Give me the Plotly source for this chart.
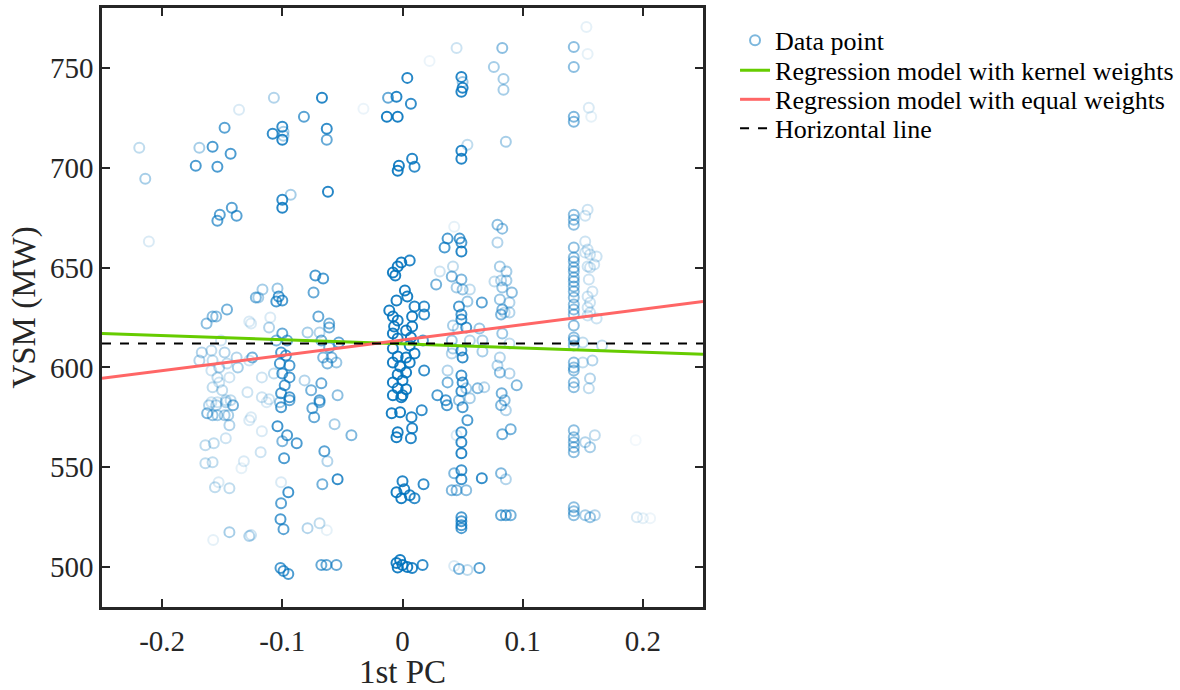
import plotly.graph_objects as go

# ---------------- data ----------------
# far-left sparse points
fl_x = [-0.219, -0.214, -0.211, -0.172, -0.169, -0.158, -0.154, -0.148, -0.143, -0.136,
        -0.154, -0.152, -0.142, -0.138]
fl_y = [710, 694.5, 663, 701, 710, 710.5, 700.5, 720, 707, 729,
        673.5, 676.5, 680, 676]
fl_w = [0.25, 0.35, 0.15, 0.7, 0.35, 0.7, 0.7, 0.65, 0.7, 0.15,
        0.65, 0.65, 0.65, 0.65]

# column near -0.15 (mid / low)
c15_x = [-0.146, -0.163, -0.158, -0.155, -0.1275, -0.122,
         -0.167, -0.159, -0.151, -0.148, -0.169, -0.158, -0.1525, -0.146, -0.138, -0.137,
         -0.159, -0.154, -0.144, -0.158, -0.1525, -0.150, -0.143, -0.159, -0.154, -0.147,
         -0.129, -0.125,
         -0.161, -0.155, -0.147, -0.141, -0.1625, -0.158, -0.154, -0.148, -0.145, -0.144, -0.1275,
         -0.164, -0.157, -0.147, -0.164, -0.158, -0.132, -0.134,
         -0.156, -0.153, -0.144, -0.144, -0.1575, -0.1275]
c15_y = [629, 622, 625.5, 625.5, 623, 635,
         607.5, 608.5, 613.5, 607.5, 603.5, 603.5, 600, 602, 605, 600,
         598.5, 595, 595, 590, 592.5, 588.5, 583.5, 582.5, 582.5, 583.5,
         587.5, 605,
         581, 581, 582.5, 581, 577, 576, 576, 576, 576, 571, 573.5,
         561, 562, 564.5, 552, 552.5, 553, 549.5,
         540, 542.5, 539.5, 517.5, 513.5, 515.5]
c15_w = [0.55, 0.45, 0.45, 0.45, 0.15, 0.5,
         0.3, 0.25, 0.2, 0.3, 0.3, 0.25, 0.3, 0.25, 0.3, 0.35,
         0.2, 0.25, 0.2, 0.25, 0.2, 0.25, 0.25, 0.2, 0.2, 0.25,
         0.2, 0.55,
         0.3, 0.3, 0.3, 0.55, 0.5, 0.4, 0.35, 0.35, 0.35, 0.3, 0.15,
         0.25, 0.25, 0.2, 0.25, 0.25, 0.15, 0.1,
         0.25, 0.15, 0.25, 0.35, 0.1, 0.3]

# column near -0.1 / -0.065
c10_x = [-0.107, -0.067, -0.082, -0.108, -0.100, -0.099, -0.100, -0.099, -0.063, -0.063, -0.0325,
         -0.062, -0.100, -0.093, -0.100,
         -0.0725, -0.066, -0.074, -0.1165, -0.120, -0.104, -0.105, -0.100, -0.103,
         -0.070, -0.061, -0.061, -0.126, -0.110,
         -0.079, -0.069, -0.053, -0.061, -0.0675, -0.066, -0.059,
         -0.100, -0.111, -0.105, -0.096, -0.101, -0.097, -0.102, -0.094, -0.100, -0.107,
         -0.094, -0.098, -0.101, -0.094, -0.111, -0.117,
         -0.0815, -0.076, -0.0675, -0.069, -0.054, -0.0625, -0.055, -0.1275, -0.117,
         -0.113, -0.102, -0.094, -0.101, -0.075, -0.069, -0.0735, -0.0565, -0.0425,
         -0.104, -0.096, -0.088, -0.100, -0.0985, -0.117, -0.118, -0.126,
         -0.065, -0.0625, -0.054, -0.0667,
         -0.095, -0.101, -0.101, -0.1015, -0.099, -0.079, -0.069, -0.063, -0.126,
         -0.1015, -0.099, -0.095, -0.0675, -0.0633, -0.055]
c10_y = [735, 735, 725.5, 717, 720.5, 718, 714, 716, 719.5, 714, 729.5,
         688, 684, 686.5, 680,
         646, 644.5, 637.5, 639, 635, 639.5, 633, 633.5, 635.5,
         625.5, 622, 620, 622, 625,
         617.5, 617.5, 612.5, 610, 613.5, 605, 605,
         617, 620, 613.5, 613.5, 607.5, 606, 602, 601, 597, 597,
         595, 591, 587, 585, 584, 585,
         593.5, 588.5, 592, 583.5, 586, 602, 602.5, 603.5, 595,
         582.5, 582.5, 583.5, 580, 579.5, 582.5, 575, 571.5, 566,
         570.5, 566, 562, 563, 554.5, 568, 557.5, 575,
         558, 553, 544, 541.5,
         537.5, 532, 542.5, 524, 519, 519.5, 522, 518.5, 516,
         499.5, 498, 496.5, 501, 501, 501]
c10_w = [0.3, 0.85, 0.65, 0.8, 0.8, 0.35, 0.85, 0.35, 0.8, 0.6, 0.08,
         0.85, 0.8, 0.35, 0.85,
         0.7, 0.7, 0.6, 0.35, 0.35, 0.4, 0.7, 0.7, 0.7,
         0.6, 0.55, 0.55, 0.15, 0.15,
         0.35, 0.3, 0.6, 0.55, 0.55, 0.5, 0.5,
         0.6, 0.3, 0.5, 0.6, 0.7, 0.7, 0.7, 0.7, 0.7, 0.25,
         0.7, 0.7, 0.7, 0.7, 0.2, 0.2,
         0.3, 0.55, 0.6, 0.65, 0.45, 0.5, 0.4, 0.2, 0.2,
         0.15, 0.4, 0.6, 0.7, 0.6, 0.55, 0.6, 0.35, 0.5,
         0.75, 0.7, 0.7, 0.5, 0.7, 0.15, 0.2, 0.15,
         0.65, 0.3, 0.8, 0.55,
         0.75, 0.65, 0.15, 0.7, 0.65, 0.3, 0.25, 0.1, 0.2,
         0.7, 0.7, 0.7, 0.6, 0.6, 0.6]

# column near 0
c0_x = [-0.012, -0.005, -0.013, -0.004, 0.004, 0.007, -0.003, -0.004, 0.008, 0.010, 0.0225,
        -0.004, -0.001, 0.006, -0.008, -0.006, 0.002, 0.004, -0.005, -0.011, 0.010, 0.018,
        0.018, 0.008, -0.008, -0.004, 0.008, -0.007, 0.003, -0.008, 0.007, -0.004, 0.017,
        0.006, -0.008, 0.010, -0.004, 0.003, -0.008, 0.006, -0.002, 0.003, 0.018, -0.004,
        0.000, -0.008, 0.003, -0.004, 0.000, -0.008, -0.001,
        -0.009, -0.002, 0.0075, 0.016, 0.008, -0.005, 0.007, -0.004,
        0.000, 0.0015, -0.005, -0.001, 0.010, 0.006, 0.0175,
        -0.005, -0.002, 0.000, 0.004, 0.008, 0.0167, -0.004]
c0_y = [735, 735.5, 725.5, 725.5, 745, 732, 701, 698.5, 704.5, 700.5, 753.5,
        650.5, 652.5, 653.5, 647.5, 646, 638.5, 635.5, 633.5, 628.5, 630.5, 630.5,
        626.5, 625.5, 625.5, 623.5, 620.5, 620.5, 618.5, 617, 615, 614.5, 613.5,
        611, 609.5, 607, 605.5, 605, 602.5, 602.5, 600.5, 597.5, 598.5, 596.5,
        593.5, 592.5, 589, 589.5, 586, 586, 585,
        577, 577.5, 575, 578.5, 569.5, 565, 564.5, 567.5,
        543, 539, 537.5, 534.5, 534.5, 536, 541.5,
        502, 503.5, 501, 500, 499.5, 501, 499.8]
c0_w = [0.6, 0.85, 0.9, 0.9, 0.85, 0.8, 0.9, 0.9, 0.85, 0.8, 0.08,
        0.9, 0.9, 0.85, 0.9, 0.9, 0.9, 0.9, 0.9, 0.9, 0.85, 0.8,
        0.8, 0.9, 0.9, 0.9, 0.9, 0.9, 0.9, 0.9, 0.9, 0.9, 0.7,
        0.9, 0.9, 0.9, 0.9, 0.9, 0.9, 0.9, 0.9, 0.9, 0.8, 0.9,
        0.9, 0.9, 0.9, 0.9, 0.9, 0.9, 0.9,
        0.9, 0.9, 0.85, 0.8, 0.85, 0.9, 0.85, 0.9,
        0.85, 0.85, 0.9, 0.9, 0.8, 0.85, 0.8,
        0.9, 0.9, 0.9, 0.9, 0.85, 0.8, 0.9]

# column near 0.05
c05_x = [0.045, 0.049, 0.050, 0.050, 0.049, 0.049, 0.049, 0.054,
         0.028, 0.031, 0.042, 0.035, 0.0375, 0.043, 0.0475, 0.049, 0.049,
         0.041, 0.045, 0.049, 0.050, 0.056, 0.054, 0.047, 0.049, 0.049, 0.066,
         0.042, 0.046, 0.053, 0.064, 0.041, 0.056, 0.0665, 0.042, 0.049, 0.050, 0.0665, 0.041,
         0.0375, 0.0375, 0.049, 0.050, 0.029, 0.049, 0.053, 0.0625, 0.068, 0.036, 0.047, 0.056,
         0.037, 0.050, 0.054, 0.045, 0.049, 0.049, 0.049,
         0.043, 0.049, 0.049, 0.066, 0.045, 0.053, 0.041,
         0.049, 0.049, 0.049, 0.049,
         0.043, 0.047, 0.054, 0.064]
c05_y = [760, 745.5, 743, 740, 738, 708.5, 704.5, 711.5,
         641.5, 648, 650.5, 660, 664.5, 670.5, 664.5, 662.5, 658,
         645.5, 640, 644, 639, 639, 633, 630.5, 626.5, 624, 632.5,
         621, 619.5, 620, 619.5, 613.5, 613.5, 613.5, 609.5, 608.5, 605, 608, 607,
         598.5, 592.5, 596, 592.5, 586, 588, 589.5, 589.5, 590, 583.5, 583.5, 584.5,
         581, 580, 573.5, 566, 567.5, 562.5, 557,
         547, 548.5, 544, 544.5, 538.5, 538.5, 538.5,
         525, 523, 521, 519.5,
         500.5, 499, 498.5, 499.5]
c05_w = [0.2, 0.85, 0.4, 0.85, 0.85, 0.85, 0.85, 0.25,
         0.55, 0.2, 0.25, 0.7, 0.7, 0.1, 0.7, 0.7, 0.85,
         0.5, 0.35, 0.5, 0.4, 0.25, 0.4, 0.7, 0.7, 0.75, 0.65,
         0.35, 0.25, 0.7, 0.4, 0.4, 0.3, 0.35, 0.35, 0.75, 0.8, 0.35, 0.3,
         0.3, 0.55, 0.75, 0.75, 0.7, 0.75, 0.35, 0.5, 0.3, 0.7, 0.45, 0.35,
         0.7, 0.7, 0.7, 0.15, 0.75, 0.8, 0.85,
         0.5, 0.75, 0.75, 0.8, 0.5, 0.45, 0.5,
         0.7, 0.7, 0.7, 0.7,
         0.15, 0.5, 0.25, 0.65]

# column near 0.085
c085_x = [0.076, 0.083, 0.084, 0.084, 0.086,
          0.079, 0.083, 0.079, 0.081, 0.0865, 0.0765, 0.082, 0.0865, 0.083, 0.091, 0.081,
          0.089, 0.083, 0.082, 0.085, 0.089,
          0.083, 0.089, 0.081, 0.079, 0.081, 0.089, 0.095, 0.0825, 0.085,
          0.082, 0.086, 0.083, 0.090, 0.082, 0.086, 0.082, 0.086, 0.090]
c085_y = [750.5, 760, 744.5, 739, 713,
          671.5, 669.5, 662.5, 650.5, 648, 643, 643.5, 643.5, 640, 637.5, 634,
          632.5, 629, 626.5, 627.5, 627.5,
          617, 612, 605, 601, 597.5, 597, 591, 587, 583.5,
          581, 578.5, 566.5, 569, 547, 544, 526, 526, 526]
c085_w = [0.35, 0.45, 0.35, 0.35, 0.35,
          0.45, 0.45, 0.3, 0.35, 0.35, 0.25, 0.3, 0.35, 0.4, 0.45, 0.4,
          0.3, 0.5, 0.5, 0.25, 0.3,
          0.4, 0.25, 0.3, 0.3, 0.45, 0.3, 0.5, 0.55, 0.45,
          0.5, 0.3, 0.55, 0.55, 0.5, 0.3, 0.6, 0.6, 0.55]

# column near 0.145
c145_y = [760.5, 750.5, 725.5, 723, 676.5, 674, 671.5,
          660, 655, 653, 650, 648, 645, 643, 640.5, 638, 635, 631.5, 629, 626.5,
          621, 615, 613.5, 611, 602.5, 600, 598.5, 592.5, 590,
          568.5, 565, 562.5, 560, 557.5, 530, 528, 526]
c145_x = [0.1425] * len(c145_y)
c145_w = [0.45, 0.45, 0.5, 0.5] + [0.45] * (len(c145_y) - 4)

# light points near 0.155 and the far right
c155_x = [0.153, 0.154, 0.155, 0.157, 0.152, 0.154,
          0.152, 0.154, 0.152, 0.156, 0.1615, 0.1595, 0.154, 0.156, 0.155, 0.158, 0.154,
          0.156, 0.154, 0.156, 0.1615, 0.154, 0.150, 0.166, 0.150, 0.158, 0.156, 0.155,
          0.152, 0.156, 0.160, 0.194, 0.152, 0.156, 0.160, 0.195, 0.200, 0.206]
c155_y = [770.5, 757, 730, 725.5, 676, 679,
          663, 659, 657.5, 656.5, 655.5, 651.5, 650.5, 650, 644, 638, 635.5,
          632.5, 630, 627.5, 624.5, 626, 612.5, 611, 602.5, 603.5, 594.5, 589.5,
          562.5, 560, 566, 563.5, 526, 525, 526, 525, 524.5, 524.5]
c155_w = [0.1, 0.1, 0.15, 0.1, 0.2, 0.2,
          0.2, 0.2, 0.2, 0.2, 0.2, 0.2, 0.2, 0.2, 0.2, 0.2, 0.2,
          0.2, 0.2, 0.2, 0.2, 0.2, 0.25, 0.25, 0.25, 0.3, 0.3, 0.25,
          0.3, 0.35, 0.25, 0.05, 0.35, 0.4, 0.3, 0.15, 0.1, 0.07]

# regression models (intercept, slope) and horizontal line level
kernel_coef = [611.8, -20.8]
equal_coef = [613.75, 77.0]
horizontal_level = 612.0
x_range = [-0.25, 0.25]

# x/y ticks
x_ticks = [-0.2, -0.1, 0, 0.1, 0.2]
x_ticklabels = ["-0.2", "-0.1", "0", "0.1", "0.2"]
y_ticks = [500, 550, 600, 650, 700, 750]

# ---------------- assemble ----------------
pc1 = fl_x + c15_x + c10_x + c0_x + c05_x + c085_x + c145_x + c155_x
vsm = fl_y + c15_y + c10_y + c0_y + c05_y + c085_y + c145_y + c155_y
wgt = fl_w + c15_w + c10_w + c0_w + c05_w + c085_w + c145_w + c155_w
n = min(len(pc1), len(vsm), len(wgt))
pc1, vsm, wgt = pc1[:n], vsm[:n], wgt[:n]

BLUE = "rgb(0,114,189)"
FONT = "Liberation Serif, Times New Roman, serif"
INK = "#262626"

fig = go.Figure()
fig.add_trace(go.Scatter(
    x=pc1, y=vsm, mode="markers", name="Data point", legend="legend",
    marker=dict(symbol="circle-open", size=10, color=BLUE, opacity=wgt,
                line=dict(width=2, color=BLUE)),
))
fig.add_trace(go.Scatter(
    x=x_range, y=[kernel_coef[0] + kernel_coef[1] * v for v in x_range],
    mode="lines", name="Regression model with kernel weights", legend="legend2",
    line=dict(color="rgb(102,204,0)", width=3),
))
fig.add_trace(go.Scatter(
    x=x_range, y=[equal_coef[0] + equal_coef[1] * v for v in x_range],
    mode="lines", name="Regression model with equal weights", legend="legend3",
    line=dict(color="rgb(255,102,102)", width=3),
))
fig.add_trace(go.Scatter(
    x=x_range, y=[horizontal_level] * len(x_range),
    mode="lines", name="Horizontal line", legend="legend4",
    line=dict(color="black", width=2, dash="dash"),
))

axis_common = dict(
    showline=True, linecolor=INK, linewidth=2.5, mirror="ticks",
    ticks="inside", ticklen=8, tickwidth=2, tickcolor=INK,
    showgrid=False, zeroline=False,
    tickfont=dict(family=FONT, size=29, color=INK),
)


def leg(ypos):
    return dict(x=1.0533, y=ypos, xanchor="left", yanchor="middle",
                font=dict(family=FONT, size=26, color="black"),
                bgcolor="rgba(255,255,255,0)", borderwidth=0)


fig.update_layout(
    width=1180, height=690,
    margin=dict(l=102, r=477, t=8, b=83, autoexpand=False),
    paper_bgcolor="white", plot_bgcolor="white",
    font=dict(family=FONT, color=INK),
    xaxis=dict(range=x_range, tickvals=x_ticks, ticktext=x_ticklabels,
               title=dict(text="1st PC", font=dict(family=FONT, size=33, color=INK), standoff=6),
               ticklabelstandoff=6, **axis_common),
    yaxis=dict(range=[480, 780], tickvals=y_ticks,
               title=dict(text="VSM (MW)", font=dict(family=FONT, size=33, color=INK), standoff=5),
               ticklabelstandoff=0, **axis_common),
    legend=leg(0.9459),
    legend2=leg(0.8959),
    legend3=leg(0.8474),
    legend4=leg(0.7990),
    showlegend=True,
)

fig.write_html("out.html")
